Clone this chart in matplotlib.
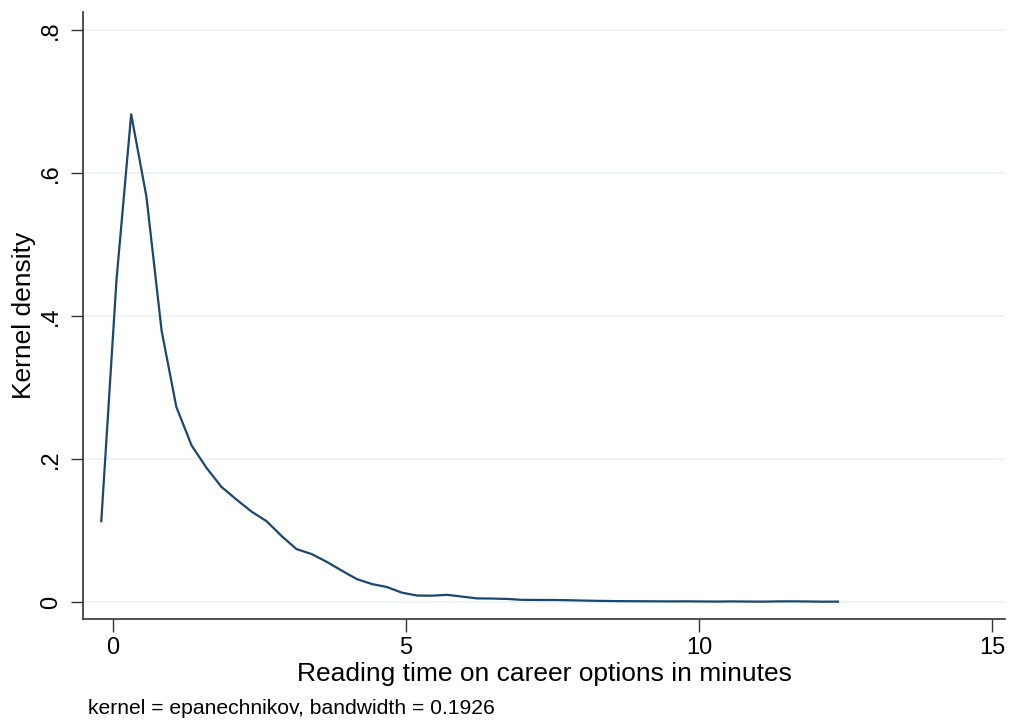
import matplotlib
matplotlib.use("Agg")
import matplotlib.pyplot as plt

plt.rcParams['font.family'] = ['Liberation Sans', 'DejaVu Sans']

# kernel density estimate (50 evaluation points)
reading_time = [-0.20, 0.06, 0.31, 0.57, 0.83, 1.08, 1.34, 1.60, 1.85, 2.11,
                2.37, 2.62, 2.88, 3.13, 3.39, 3.65, 3.90, 4.16, 4.42, 4.67,
                4.93, 5.19, 5.44, 5.70, 5.96, 6.21, 6.47, 6.73, 6.98, 7.24,
                7.50, 7.75, 8.01, 8.26, 8.52, 8.78, 9.03, 9.29, 9.55, 9.80,
                10.06, 10.32, 10.57, 10.83, 11.09, 11.34, 11.60, 11.86, 12.11, 12.37]
density = [0.113, 0.451, 0.682, 0.567, 0.379, 0.273, 0.219, 0.187, 0.161, 0.143,
           0.126, 0.113, 0.092, 0.074, 0.067, 0.056, 0.044, 0.032, 0.025, 0.021,
           0.013, 0.009, 0.0088, 0.010, 0.0075, 0.0050, 0.0048, 0.0042, 0.0030, 0.0028,
           0.0028, 0.0025, 0.0020, 0.0016, 0.0013, 0.0011, 0.0010, 0.0009, 0.0008, 0.0009,
           0.0007, 0.0006, 0.0008, 0.0006, 0.0005, 0.0008, 0.0009, 0.0007, 0.0004, 0.0005]

xticks = [0, 5, 10, 15]
yticks = [0, 0.2, 0.4, 0.6, 0.8]
ytick_labels = ['0', '.2', '.4', '.6', '.8']

fig = plt.figure(figsize=(10.14, 7.24), dpi=100)
ax = fig.add_axes([83/1014, 1 - 619/724, (1005-83)/1014, (619-12)/724])

ax.plot(reading_time, density, color='#1a476f', linewidth=1.6)

ax.set_xlim(-0.512, 15.22)
ax.set_ylim(-0.0238, 0.825)

ax.set_xticks(xticks)
ax.set_yticks(yticks)
ax.set_yticklabels(ytick_labels, rotation=90, va='center')
ax.tick_params(axis='both', labelsize=17, length=9, width=1, color='#333333')
ax.tick_params(axis='y', pad=6)
ax.tick_params(axis='x', pad=4)

ax.grid(axis='y', color='#eaf2f3', linewidth=1.2)
ax.set_axisbelow(True)
for side in ['top', 'right']:
    ax.spines[side].set_visible(False)
for side in ['left', 'bottom']:
    ax.spines[side].set_linewidth(1.2)
    ax.spines[side].set_color('#333333')

ax.set_xlabel('Reading time on career options in minutes', fontsize=19, labelpad=2)
ax.set_ylabel('Kernel density', fontsize=19, labelpad=3)

fig.text(88/1014, 1 - 708/724, 'kernel = epanechnikov, bandwidth = 0.1926',
         fontsize=15.2, va='center', ha='left')

fig.savefig('out.png', dpi=100)
